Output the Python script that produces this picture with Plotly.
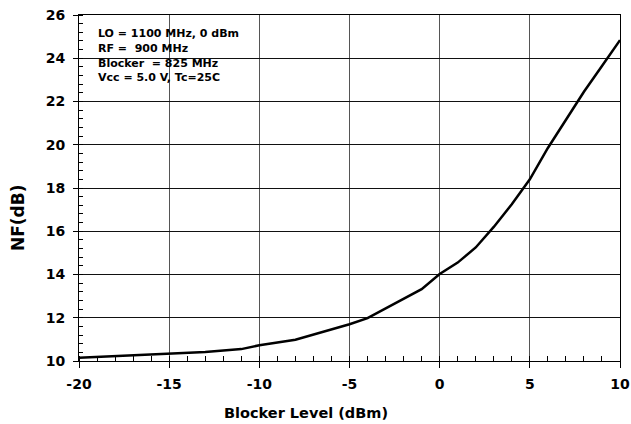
import plotly.graph_objects as go

# Data
blocker_level = [-20, -15, -13, -11, -10, -8, -5, -4, -1, 0, 1, 2, 3, 4, 5, 6, 7, 8, 9, 10]
nf_db = [10.15, 10.33, 10.42, 10.55, 10.73, 10.98, 11.70, 11.98, 13.32, 14.02,
         14.55, 15.25, 16.2, 17.25, 18.4, 19.85, 21.15, 22.45, 23.64, 24.84]

x_ticks = [-20, -15, -10, -5, 0, 5, 10]
x_tick_labels = ["-20", "-15", "-10", "-5", "0", "5", "10"]
y_ticks = [10, 12, 14, 16, 18, 20, 22, 24, 26]
y_tick_labels = ["10", "12", "14", "16", "18", "20", "22", "24", "26"]

conditions = ["LO = 1100 MHz, 0 dBm",
              "RF =\u00a0\u00a0900 MHz",
              "Blocker\u00a0\u00a0= 825 MHz",
              "Vcc = 5.0 V, Tc=25C"]

FONT = "DejaVu Sans"
W, H = 631, 424
ML, MR, MT, MB = 79, 11, 15, 63
PW, PH = W - ML - MR, H - MT - MB


def px_to_paper(xp, yp):
    return (xp - ML) / PW, (H - MB - yp) / PH


fig = go.Figure()
fig.add_trace(go.Scatter(x=blocker_level, y=nf_db, mode="lines",
                         line=dict(color="black", width=2.5), showlegend=False,
                         hoverinfo="skip"))

fig.update_layout(
    width=W, height=H,
    margin=dict(l=ML, r=MR, t=MT, b=MB, autoexpand=False),
    paper_bgcolor="white", plot_bgcolor="white",
    font=dict(family=FONT, color="black", size=14, weight="bold"),
    xaxis=dict(range=[-20, 10], tickvals=x_ticks, ticktext=x_tick_labels,
               ticks="outside", ticklen=6, automargin=False,
               tickcolor="black", showline=True, linecolor="black", linewidth=1,
               mirror=True, showgrid=True, gridcolor="#555", gridwidth=1,
               zeroline=False, ticklabelstandoff=4,
               tickfont=dict(family=FONT, size=14, weight="bold"),
               minor=dict(dtick=1, ticks="inside", ticklen=5, tickcolor="black",
                          showgrid=False)),
    yaxis=dict(range=[10, 26], tickvals=y_ticks, ticktext=y_tick_labels,
               ticks="outside", ticklen=5, automargin=False,
               tickcolor="black", showline=True, linecolor="black", linewidth=1,
               mirror=True, showgrid=True, gridcolor="#111", gridwidth=1,
               zeroline=False, ticklabelstandoff=5,
               tickfont=dict(family=FONT, size=14, weight="bold"),
               minor=dict(dtick=0.4, ticks="inside", ticklen=4, tickcolor="black",
                          showgrid=False)),
)

# white box behind the condition text (covers gridlines)
bx0, by0 = px_to_paper(80, 97)
bx1, by1 = px_to_paper(253, 20)
fig.add_shape(type="rect", xref="paper", yref="paper", x0=bx0, x1=bx1,
              y0=by0, y1=by1, fillcolor="white", line=dict(width=0),
              layer="between")

line_centers = [34, 48.5, 63, 77.5]
for txt, yc in zip(conditions, line_centers):
    ax, ay = px_to_paper(96, yc)
    fig.add_annotation(xref="paper", yref="paper", x=ax, y=ay,
                       xanchor="left", yanchor="middle", align="left",
                       showarrow=False, text=txt,
                       font=dict(family=FONT, size=11, weight="bold"))

# axis titles
tx, ty = px_to_paper(306, 413)
fig.add_annotation(xref="paper", yref="paper", x=tx, y=ty,
                   xanchor="center", yanchor="middle", showarrow=False,
                   text="Blocker Level (dBm)",
                   font=dict(family=FONT, size=14.5, weight="bold"))
vx, vy = px_to_paper(18, 218)
fig.add_annotation(xref="paper", yref="paper", x=vx, y=vy,
                   xanchor="center", yanchor="middle", showarrow=False,
                   textangle=-90, text="NF(dB)",
                   font=dict(family=FONT, size=17, weight="bold"))

fig.write_html("out.html", post_script="document.body.style.margin='0';",
               config={"displayModeBar": False})
